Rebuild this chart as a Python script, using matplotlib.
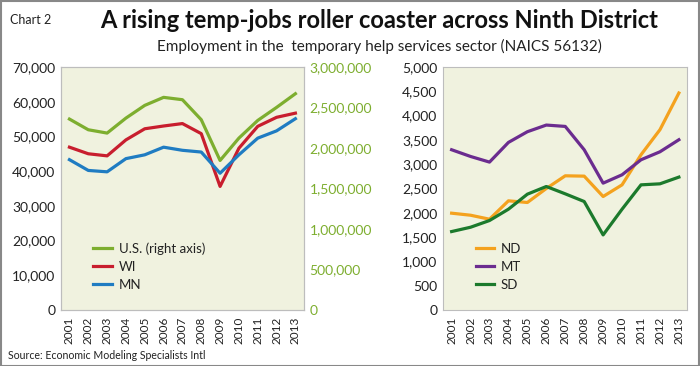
import matplotlib
matplotlib.use("Agg")
import matplotlib.pyplot as plt
from matplotlib.ticker import FuncFormatter, MultipleLocator
from matplotlib.patches import Rectangle

plt.rcParams['font.family'] = ['Lato', 'DejaVu Sans']

years = ["2001", "2002", "2003", "2004", "2005", "2006", "2007", "2008", "2009", "2010", "2011", "2012", "2013"]
us = [2357000, 2225000, 2184000, 2369000, 2526000, 2625000, 2596000, 2349000, 1846000, 2122000, 2340000, 2501000, 2670000]
wi = [46900, 45000, 44400, 49000, 52200, 53000, 53700, 50800, 35600, 46600, 52900, 55500, 56700]
mn = [43300, 40200, 39800, 43600, 44700, 46900, 46000, 45500, 39400, 44700, 49500, 51600, 55100]
nd = [1992, 1950, 1868, 2246, 2212, 2500, 2761, 2754, 2335, 2575, 3194, 3709, 4464]
mt = [3297, 3159, 3043, 3448, 3668, 3805, 3777, 3297, 2610, 2782, 3091, 3255, 3503]
sd = [1614, 1703, 1841, 2074, 2383, 2541, 2390, 2232, 1545, 2074, 2575, 2596, 2734]

C_US = "#7DAE2F"
C_WI = "#C81E2E"
C_MN = "#1F7CC2"
C_ND = "#F4A21E"
C_MT = "#6B2C8F"
C_SD = "#1C7A2C"
BG = "#F0F2DF"
SPINE = "#BDBDBD"
TXT = "#222222"
TICK_FS = 10

fig = plt.figure(figsize=(7.0, 3.66), dpi=100)
fig.patches.append(Rectangle((0.001, 0.001), 0.998, 0.997, transform=fig.transFigure,
                             fill=False, edgecolor="#888888", linewidth=1.5))

fmt = FuncFormatter(lambda v, p: f"{int(v):,}")
x = list(range(len(years)))

def style(ax):
    ax.set_facecolor(BG)
    for s in ax.spines.values():
        s.set_color(SPINE)
        s.set_linewidth(0.8)
    ax.set_xlim(-0.45, len(years) - 1 + 0.45)
    ax.set_xticks(x)
    ax.set_xticklabels(years, rotation=90, fontsize=8.5, color=TXT)
    ax.tick_params(axis='x', length=0, pad=5)
    ax.tick_params(axis='y', length=0, labelsize=TICK_FS, colors=TXT, pad=4)
    ax.yaxis.set_major_formatter(fmt)

# Left panel
ax1 = fig.add_axes([0.0871, 0.153, 0.347, 0.664])
style(ax1)
ax1.set_ylim(0, 70000)
ax1.yaxis.set_major_locator(MultipleLocator(10000))
ax2 = ax1.twinx()
ax2.set_ylim(0, 3000000)
ax2.yaxis.set_major_locator(MultipleLocator(500000))
ax2.yaxis.set_major_formatter(fmt)
ax2.tick_params(axis='y', length=0, labelsize=TICK_FS, colors=C_US, pad=4)
for s in ax2.spines.values():
    s.set_color(SPINE)
    s.set_linewidth(0.8)
l_us, = ax2.plot(x, us, color=C_US, lw=2.3, label="U.S. (right axis)")
l_wi, = ax1.plot(x, wi, color=C_WI, lw=2.3, label="WI")
l_mn, = ax1.plot(x, mn, color=C_MN, lw=2.3, label="MN")
ax2.legend(handles=[l_us, l_wi, l_mn], loc="lower left", bbox_to_anchor=(0.085, 0.03),
           frameon=False, fontsize=9.5, handlelength=1.4, labelspacing=0.45,
           handletextpad=0.5, labelcolor=TXT)

# Right panel
ax3 = fig.add_axes([0.633, 0.153, 0.349, 0.664])
style(ax3)
ax3.set_ylim(0, 5000)
ax3.yaxis.set_major_locator(MultipleLocator(500))
ax3.plot(x, nd, color=C_ND, lw=2.3, label="ND")
ax3.plot(x, mt, color=C_MT, lw=2.3, label="MT")
ax3.plot(x, sd, color=C_SD, lw=2.3, label="SD")
ax3.legend(loc="lower left", bbox_to_anchor=(0.085, 0.03), frameon=False, fontsize=9.5,
           handlelength=1.4, labelspacing=0.45, handletextpad=0.5, labelcolor=TXT)

fig.text(0.014, 0.945, "Chart 2", fontsize=9, color=TXT, va="center", ha="left")
fig.text(0.542, 0.943, "A rising temp-jobs roller coaster across Ninth District",
         fontsize=17, fontweight="bold", color="#111111", ha="center", va="center")
fig.text(0.542, 0.873, "Employment in the  temporary help services sector (NAICS 56132)",
         fontsize=11, color=TXT, ha="center", va="center")
fig.text(0.012, 0.028, "Source: Economic Modeling Specialists Intl", fontsize=7.6, color=TXT,
         ha="left", va="center")

fig.savefig("out.png", dpi=100)
